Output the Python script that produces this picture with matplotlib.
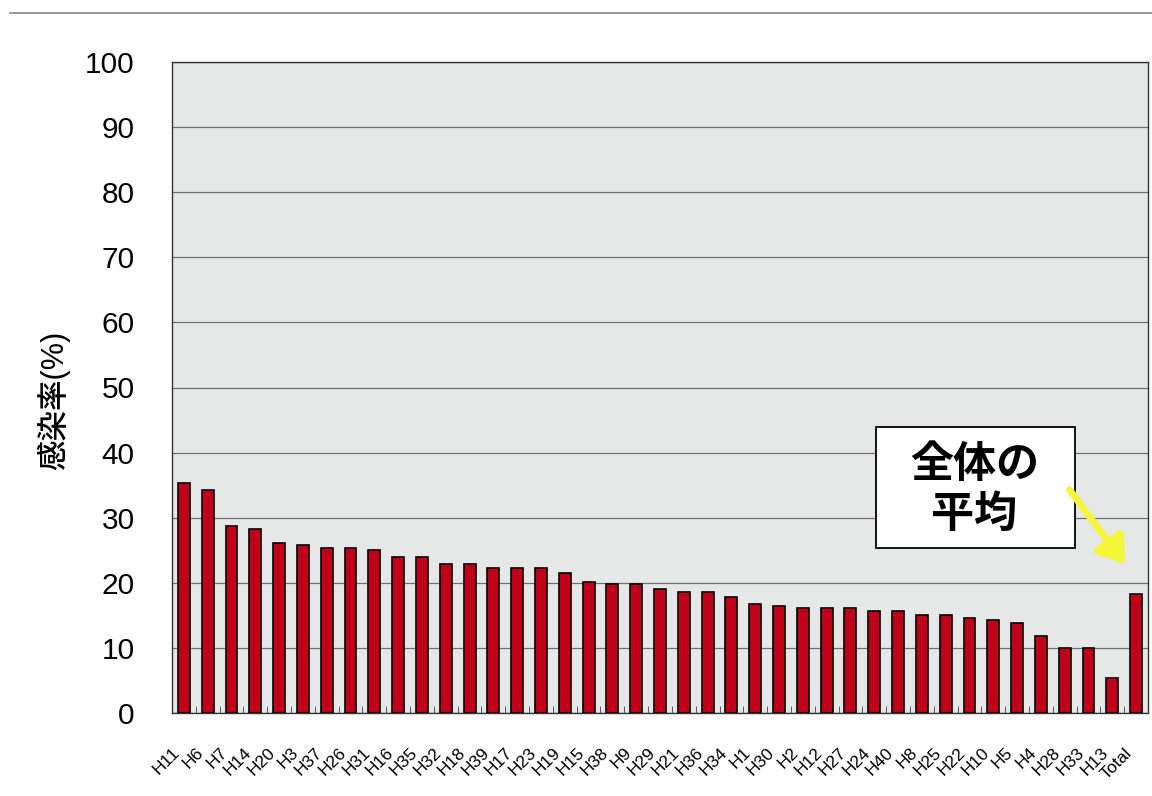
import numpy as np
import matplotlib
matplotlib.use("Agg")
import matplotlib.pyplot as plt
from matplotlib.lines import Line2D
from matplotlib.patches import Rectangle
from matplotlib.transforms import ScaledTranslation

plt.rcParams['font.family'] = ['Liberation Sans', 'Noto Sans CJK JP', 'DejaVu Sans']

labels = ["H11", "H6", "H7", "H14", "H20", "H3", "H37", "H26", "H31", "H16",
          "H35", "H32", "H18", "H39", "H17", "H23", "H19", "H15", "H38", "H9",
          "H29", "H21", "H36", "H34", "H1", "H30", "H2", "H12", "H27", "H24",
          "H40", "H8", "H25", "H22", "H10", "H5", "H4", "H28", "H33", "H13",
          "Total"]
rates = [35.4, 34.3, 28.7, 28.2, 26.1, 25.8, 25.4, 25.4, 25.1, 24.0,
         24.0, 22.9, 22.9, 22.3, 22.3, 22.3, 21.5, 20.1, 19.8, 19.8,
         19.0, 18.6, 18.6, 17.8, 16.8, 16.4, 16.1, 16.1, 16.1, 15.7,
         15.7, 15.0, 15.0, 14.6, 14.3, 13.9, 11.8, 10.0, 10.0, 5.4,
         18.3]
yticks = [0, 10, 20, 30, 40, 50, 60, 70, 80, 90, 100]

fig = plt.figure(figsize=(11.52, 7.96), dpi=100)
ax = fig.add_axes([172/1152, 1 - 713/796, (1148-172)/1152, (713-62)/796])
ax.set_facecolor('#e6e8e8')

x = np.arange(len(labels))
ax.bar(x, rates, width=0.5, color='#c00018', edgecolor='black', linewidth=1.2, zorder=3)

ax.set_xlim(-0.5, len(labels) - 0.5)
ax.set_ylim(0, 100)
ax.set_yticks(yticks)
ax.set_yticklabels([str(v) for v in yticks], fontsize=21.5)
ax.yaxis.grid(True, color='#707070', linewidth=0.9, zorder=1)
ax.tick_params(axis='y', length=0, pad=27)

# category ticks between bars, pointing up
ax.set_xticks(x)
ax.set_xticklabels(labels, rotation=45, ha='right', rotation_mode='anchor', fontsize=12.5)
ax.tick_params(axis='x', which='major', length=0, pad=23)
shift = ScaledTranslation(-0.12, 0, fig.dpi_scale_trans)
for lab in ax.get_xticklabels():
    lab.set_transform(lab.get_transform() + shift)
ax.set_xticks(np.arange(len(labels) + 1) - 0.5, minor=True)
ax.tick_params(axis='x', which='minor', direction='in', length=5, color='#444444')

for s in ax.spines.values():
    s.set_color('#333333')
    s.set_linewidth(1.0)

ax.set_ylabel('感染率(%)', fontsize=22, fontweight='medium')
ax.yaxis.set_label_coords(-0.104, 0.48)

# annotation box
ax.add_patch(Rectangle((0.721, 0.253), 0.204, 0.186, transform=ax.transAxes,
                       facecolor='white', edgecolor='black', linewidth=1.3, zorder=5))
ax.text(0.822, 0.342, '全体の\n平均', transform=ax.transAxes, fontsize=31, fontweight='bold',
        ha='center', va='center', linespacing=1.3, zorder=6)
ax.annotate('', xy=(39.55, 22.8), xytext=(37.2, 34.3),
            arrowprops=dict(arrowstyle='-|>,head_length=0.6,head_width=0.4', color='#f5f53a',
                            lw=5, mutation_scale=26, shrinkA=0, shrinkB=0), zorder=6)

fig.add_artist(Line2D([10/1152, 1], [1 - 13/796, 1 - 13/796], color='#888888', linewidth=1.2))

fig.savefig('out.png', dpi=100)
